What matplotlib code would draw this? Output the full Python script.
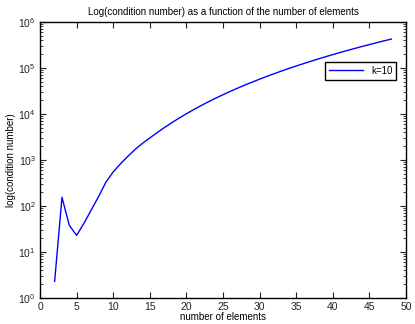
import matplotlib
matplotlib.use("Agg")
import matplotlib.pyplot as plt
from matplotlib.ticker import LogLocator, FixedLocator

plt.rcParams['font.family'] = ['Liberation Sans', 'DejaVu Sans']

n_elements = list(range(2, 49))
cond_k10 = [2.3, 155, 38, 23, 42, 82, 160, 330, 550, 830, 1200, 1700, 2300, 3020,
            3930, 5070, 6460, 8130, 10120, 12470, 15210, 18400, 22040, 26240,
            31050, 36480, 42640, 49450, 57150, 65770, 75340, 85900, 97700,
            110400, 124500, 140000, 157000, 175400, 195400, 217300, 240500,
            266100, 293700, 322800, 354800, 389000, 425600]
series_label = "k=10"
x_ticks = [0, 5, 10, 15, 20, 25, 30, 35, 40, 45, 50]

fig = plt.figure(figsize=(4.15, 3.24), dpi=100)
ax = fig.add_axes([0.0964, 0.0802, 0.882, 0.852])
ax.plot(n_elements, cond_k10, color='#0000ff', lw=1.0, label=series_label)
ax.set_yscale('log')
ax.set_xlim(0, 50)
ax.set_ylim(1, 1e6)
ax.xaxis.set_major_locator(FixedLocator(x_ticks))
ax.yaxis.set_major_locator(LogLocator(base=10, numticks=10))
ax.yaxis.set_minor_locator(LogLocator(base=10, subs=range(2, 10), numticks=10))
ax.tick_params(which='both', direction='in', top=True, right=True, labelsize=7.5, colors='#222222')
ax.tick_params(which='major', length=4, width=0.8, pad=3)
ax.tick_params(which='minor', length=2, width=0.6)
for s in ax.spines.values():
    s.set_linewidth(1.0)
ax.set_title("Log(condition number) as a function of the number of elements", fontsize=7, pad=5)
ax.set_xlabel("number of elements", fontsize=7, labelpad=0)
ax.set_ylabel("log(condition number)", fontsize=7, labelpad=2)
leg = ax.legend(loc='upper right', bbox_to_anchor=(0.973, 0.855), fontsize=7,
                fancybox=False, framealpha=1, edgecolor='black', handlelength=3.5,
                borderaxespad=0)
leg.get_frame().set_linewidth(1.0)
fig.savefig("out.png", dpi=100)
